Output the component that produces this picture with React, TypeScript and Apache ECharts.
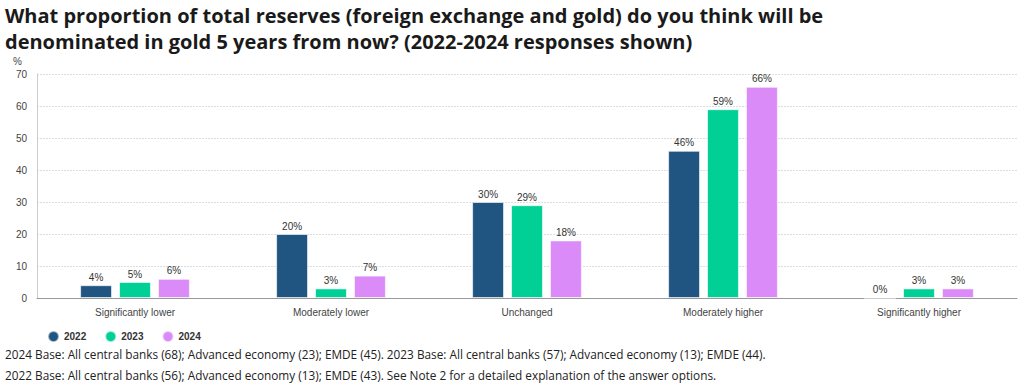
import React, { useEffect, useRef } from "react";
import * as echarts from "echarts";

const categories = ["Significantly lower", "Moderately lower", "Unchanged", "Moderately higher", "Significantly higher"];
const values2022 = [4, 20, 30, 46, 0];
const values2023 = [5, 3, 29, 59, 3];
const values2024 = [6, 7, 18, 66, 3];
const seriesNames = ["2022", "2023", "2024"];
const colors = ["#215581", "#00d095", "#da8bf8"];
const titleText =
  "What proportion of total reserves (foreign exchange and gold) do you think will be\ndenominated in gold 5 years from now? (2022-2024 responses shown)";
const note1 = "2024 Base: All central banks (68); Advanced economy (23); EMDE (45). 2023 Base: All central banks (57); Advanced economy (13); EMDE (44).";
const note2 = "2022 Base: All central banks (56); Advanced economy (13); EMDE (43). See Note 2 for a detailed explanation of the answer options.";

export default function App() {
  const ref = useRef<HTMLDivElement>(null);
  useEffect(() => {
    document.body.style.margin = "0";
    const chart = echarts.init(ref.current!, null, { renderer: "svg" });
    const data = [values2022, values2023, values2024];
    chart.setOption({
      animation: false,
      title: {
        text: titleText,
        left: 0,
        top: 0,
        padding: [2, 5],
        textStyle: {
          fontFamily: "Open Sans",
          fontWeight: "bold",
          fontSize: 20,
          lineHeight: 26,
          color: "#1a1a1a",
        },
      },
      legend: {
        left: 42,
        top: 325,
        itemWidth: 11,
        itemHeight: 11,
        itemGap: 18,
        icon: "circle",
        textStyle: { fontFamily: "Liberation Sans", fontWeight: "bold", fontSize: 10, color: "#333" },
        data: seriesNames,
      },
      grid: { left: 37, right: 7, top: 74, bottom: 89 },
      xAxis: {
        type: "category",
        data: categories,
        axisTick: { show: false },
        axisLine: { lineStyle: { color: "#999" } },
        axisLabel: { fontFamily: "Liberation Sans", fontSize: 10, color: "#444", margin: 9 },
      },
      yAxis: {
        type: "value",
        min: 0,
        max: 70,
        interval: 10,
        axisLine: { show: true, lineStyle: { color: "#ccc" } },
        axisLabel: { fontFamily: "Liberation Sans", fontSize: 10, color: "#444", margin: 10 },
        splitLine: { lineStyle: { color: "#ddd", type: [2, 1] } },
      },
      graphic: [
        { type: "text", left: 13, top: 56, style: { text: "%", fontFamily: "Liberation Sans", fontSize: 10, fill: "#444" } },
        { type: "text", left: 5, top: 348, style: { text: note1, fontFamily: "Open Sans", fontSize: 11.8, fill: "#222" } },
        { type: "text", left: 5, top: 369, style: { text: note2, fontFamily: "Open Sans", fontSize: 11.8, fill: "#222" } },
      ],
      series: seriesNames.map((name, i) => ({
        name,
        type: "bar",
        data: data[i],
        barGap: "22%",
        barCategoryGap: "44%",
        itemStyle: { color: colors[i], borderColor: "rgba(255,255,255,0.6)", borderWidth: 1 },
        label: {
          show: true,
          position: "top",
          distance: 3,
          formatter: "{c}%",
          fontFamily: "Liberation Sans",
          fontSize: 10,
          color: "#333",
        },
      })),
    });
    return () => chart.dispose();
  }, []);
  return <div ref={ref} style={{ width: 1024, height: 387 }} />;
}
